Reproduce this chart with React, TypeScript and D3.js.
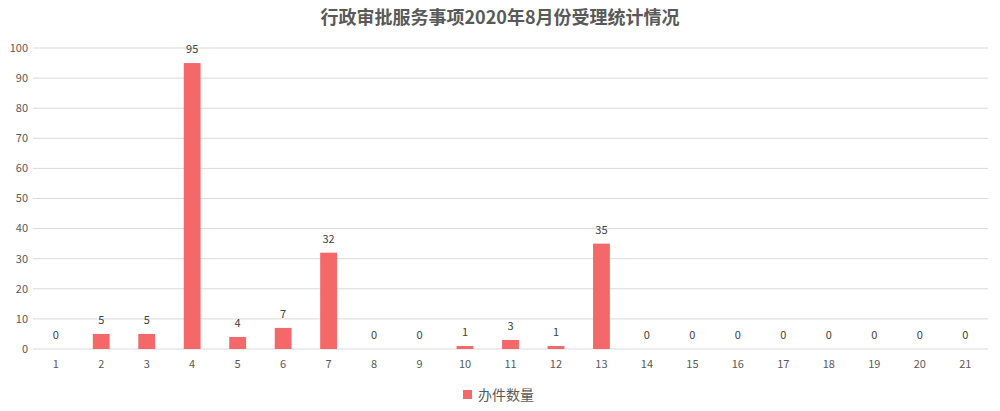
import React from 'react';
import * as d3 from 'd3';

const categories = ['1', '2', '3', '4', '5', '6', '7', '8', '9', '10', '11', '12', '13', '14', '15', '16', '17', '18', '19', '20', '21'];
const counts = [0, 5, 5, 95, 4, 7, 32, 0, 0, 1, 3, 1, 35, 0, 0, 0, 0, 0, 0, 0, 0];
const yTicks = [0, 10, 20, 30, 40, 50, 60, 70, 80, 90, 100];

const W = 1000;
const H = 411;
const FONT = '"Noto Sans CJK SC", "Microsoft YaHei", sans-serif';

const App: React.FC = () => {
  const margin = { top: 48, right: 12, bottom: 62, left: 33 };

  const x = d3.scaleBand()
    .domain(categories)
    .range([margin.left, W - margin.right])
    .paddingInner(0.63)
    .paddingOuter(0.315);

  const y = d3.scaleLinear()
    .domain([0, 100])
    .range([H - margin.bottom, margin.top]);

  const step = x.step();
  const bw = x.bandwidth();

  return (
    <svg width={W} height={H} style={{ position: 'absolute', left: 0, top: 0, background: '#fff' }}>
      <text x={W / 2} y={24} textAnchor="middle" fontFamily={FONT} fontSize={18} fontWeight="bold" fill="#595959">
        行政审批服务事项2020年8月份受理统计情况
      </text>

      {/* grid lines */}
      {yTicks.map(t => (
        <line key={t} x1={margin.left} x2={W - margin.right} y1={y(t)} y2={y(t)} stroke="#d9d9d9" strokeWidth={1} />
      ))}

      {/* y axis labels */}
      {yTicks.map(t => (
        <text key={t} x={28} y={y(t)} dy="0.35em" textAnchor="end" fontFamily={FONT} fontSize={11} fill="#595959">
          {t}
        </text>
      ))}

      {/* bars */}
      {counts.map((v, i) => (
        <rect key={i} x={x(categories[i])!} y={y(v)} width={bw} height={y(0) - y(v)} fill="#f4686a" />
      ))}

      {/* value labels */}
      {counts.map((v, i) => (
        <text key={i} x={x(categories[i])! + bw / 2} y={y(v) - 14} dy="0.35em" textAnchor="middle"
          fontFamily={FONT} fontSize={11} fill="#404040">
          {v}
        </text>
      ))}

      {/* x axis labels */}
      {categories.map(c => (
        <text key={c} x={x(c)! + bw / 2} y={y(0) + 15} dy="0.35em" textAnchor="middle"
          fontFamily={FONT} fontSize={11} fill="#595959">
          {c}
        </text>
      ))}

      {/* legend */}
      <rect x={463} y={390} width={9} height={9} fill="#f4686a" />
      <text x={478} y={395} dy="0.35em" fontFamily={FONT} fontSize={14} fill="#595959">
        办件数量
      </text>
    </svg>
  );
};

export default App;
